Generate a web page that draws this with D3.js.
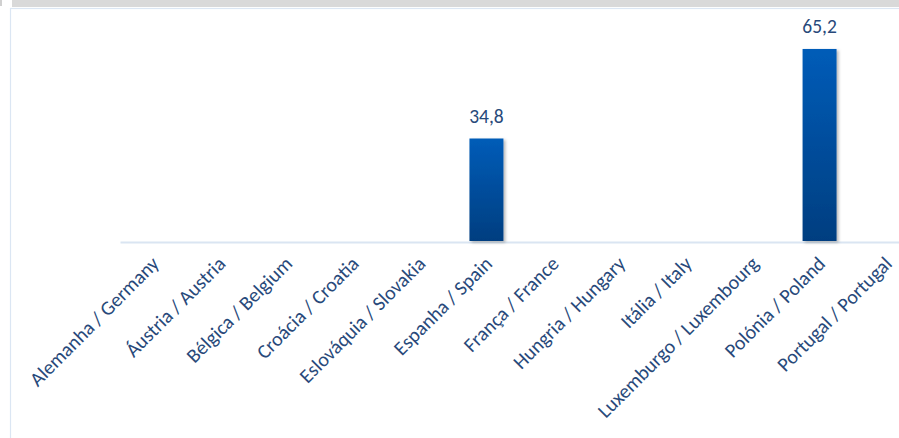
<!DOCTYPE html>
<html>
<head>
<meta charset="utf-8">
<script src="https://cdn.jsdelivr.net/npm/d3@7/dist/d3.min.js"></script>
<style>
  html, body { margin: 0; padding: 0; background: #ffffff; }
  svg { display: block; }
</style>
</head>
<body>
<script>
const categories = [
  "Alemanha / Germany", "Áustria / Austria", "Bélgica / Belgium", "Croácia / Croatia",
  "Eslováquia / Slovakia", "Espanha / Spain", "França / France", "Hungria / Hungary",
  "Itália / Italy", "Luxemburgo / Luxembourg", "Polónia / Poland", "Portugal / Portugal"
];
const values = [null, null, null, null, null, 34.8, null, null, null, null, 65.2, null];
const valueLabels = ["", "", "", "", "", "34,8", "", "", "", "", "65,2", ""];

const W = 899, H = 438;
const svg = d3.select("body").append("svg").attr("width", W).attr("height", H);

const defs = svg.append("defs");
const grad = defs.append("linearGradient").attr("id", "barGrad")
  .attr("x1", 0).attr("y1", 0).attr("x2", 0).attr("y2", 1);
grad.append("stop").attr("offset", "0%").attr("stop-color", "#005cb8");
grad.append("stop").attr("offset", "100%").attr("stop-color", "#003e80");
const shadow = defs.append("filter").attr("id", "shadow")
  .attr("x", "-30%").attr("y", "-10%").attr("width", "160%").attr("height", "130%");
shadow.append("feDropShadow").attr("dx", 2).attr("dy", 1.5).attr("stdDeviation", 1.5)
  .attr("flood-color", "#000").attr("flood-opacity", 0.28);

// header strip (cut-off title area)
svg.append("rect").attr("x", 12).attr("y", 0).attr("width", W - 12).attr("height", 7).attr("fill", "#d9d9d9");
svg.append("rect").attr("x", 0).attr("y", 0).attr("width", 2).attr("height", 6).attr("fill", "#d0d0d0");

// chart frame
svg.append("rect").attr("x", 10.5).attr("y", 8.5).attr("width", W + 20).attr("height", H + 20)
  .attr("fill", "#ffffff").attr("stroke", "#dbe6f3").attr("stroke-width", 1.2);

const x = d3.scaleBand().domain(categories).range([120, 919.5]).paddingInner(0.49).paddingOuter(0.245);
const y = d3.scaleLinear().domain([0, 75]).range([241, 20.1]);

// axis
const axis = d3.axisBottom(x).tickSize(0).tickPadding(0);
const gAxis = svg.append("g").attr("transform", `translate(0,${y(0) + 1})`).call(axis);
gAxis.select(".domain").attr("stroke", "#dae5f2").attr("stroke-width", 2);
gAxis.selectAll(".tick text")
  .attr("font-family", "Calibri, Carlito, Lato, sans-serif")
  .attr("font-size", "20px")
  .attr("fill", "#28497a")
  .attr("text-anchor", "end")
  .attr("transform", "translate(2,18) rotate(-45)")
  .attr("dy", "0.35em");

// bars
const data = categories.map((c, i) => ({ c, v: values[i], l: valueLabels[i] })).filter(d => d.v != null);
svg.append("g").selectAll("rect").data(data).join("rect")
  .attr("x", d => x(d.c))
  .attr("y", d => y(d.v))
  .attr("width", x.bandwidth())
  .attr("height", d => y(0) - y(d.v))
  .attr("fill", "url(#barGrad)")
  .attr("filter", "url(#shadow)");

svg.append("g").selectAll("text").data(data).join("text")
  .attr("x", d => x(d.c) + x.bandwidth() / 2)
  .attr("y", d => y(d.v) - 15.5)
  .attr("text-anchor", "middle")
  .attr("font-family", "Calibri, Carlito, Lato, sans-serif")
  .attr("font-size", "19.5px")
  .attr("fill", "#28497a")
  .text(d => d.l);
</script>
</body>
</html>
